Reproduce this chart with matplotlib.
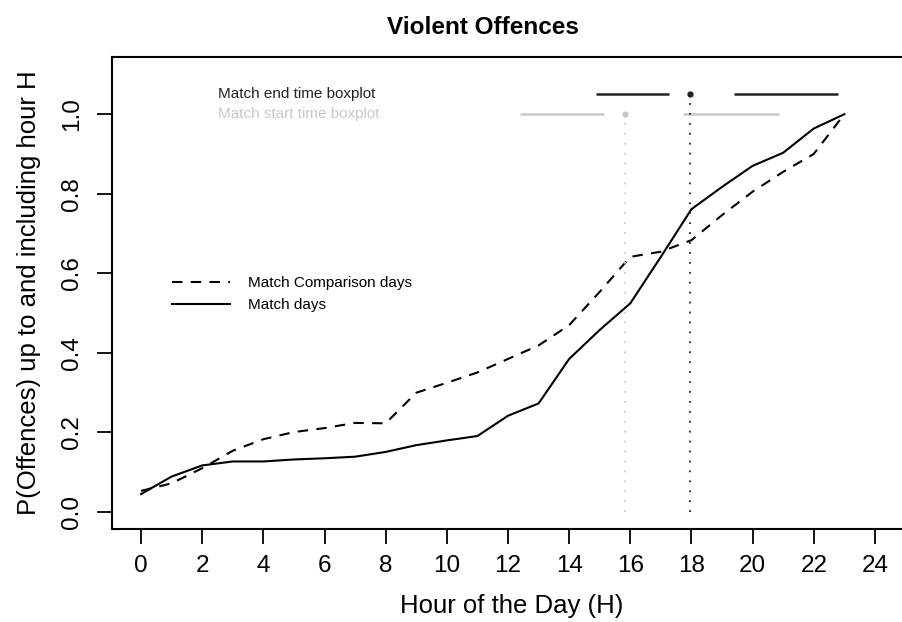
import numpy as np
import matplotlib
matplotlib.use("Agg")
import matplotlib.pyplot as plt

plt.rcParams['font.family'] = ['Liberation Sans', 'DejaVu Sans']

# cumulative share of offences by hour
hours = list(range(24))
match_days = [0.044, 0.088, 0.116, 0.126, 0.126, 0.131, 0.134, 0.138, 0.150, 0.167,
              0.179, 0.190, 0.241, 0.272, 0.384, 0.457, 0.524, 0.641, 0.761, 0.817,
              0.870, 0.903, 0.964, 1.000]
comparison_days = [0.052, 0.071, 0.109, 0.153, 0.182, 0.200, 0.210, 0.223, 0.222, 0.299,
                   0.324, 0.350, 0.384, 0.418, 0.469, 0.553, 0.641, 0.654, 0.683, 0.746,
                   0.805, 0.855, 0.900, 1.000]

# boxplot stats (min, q1, median, q3, max) of match times in hours
end_stats = [14.88, 17.27, 17.94, 19.39, 22.79]
start_stats = [12.39, 15.14, 15.83, 17.72, 20.86]
end_level = 1.05
start_level = 1.0

fig = plt.figure(figsize=(9.03, 6.22), dpi=100)
# axes run past the right edge, like the cropped original
ax = fig.add_axes([112 / 903, 1 - 529 / 622, 810 / 903, 472 / 622])

ax.plot(hours, comparison_days, color='black', lw=1.5, linestyle=(0, (5, 4)),
        label='Match Comparison days')
ax.plot(hours, match_days, color='black', lw=1.5, label='Match days')

# tufte style boxplots along the top
def draw_box(stats, level, col, dotcol):
    lo, q1, med, q3, hi = stats
    ax.plot([lo, q1], [level, level], color=col, lw=1.8, solid_capstyle='butt')
    ax.plot([q3, hi], [level, level], color=col, lw=1.8, solid_capstyle='butt')
    ax.plot([med], [level], marker='o', ms=3.5, color=col, mec=col)
    ax.plot([med, med], [0, level], color=dotcol, lw=1.3, linestyle=(0, (1, 4.5)))

draw_box(start_stats, start_level, '#c8c8c8', '#cccccc')
draw_box(end_stats, end_level, '#222222', '#222222')

ax.text(2.52, end_level, 'Match end time boxplot', fontsize=11, color='#222222',
        va='center', ha='left')
ax.text(2.52, start_level, 'Match start time boxplot', fontsize=11, color='#c8c8c8',
        va='center', ha='left')

leg = ax.legend(loc='upper left', bbox_to_anchor=(60 / 810, 0.536), frameon=False,
                fontsize=11, handlelength=3.8, handletextpad=1.2, labelspacing=0.55,
                borderpad=0, borderaxespad=0)

ax.set_xlim(-0.95, 25.54)
ax.set_ylim(-0.044, 1.144)
ax.set_xticks(np.arange(0, 25, 2))
ax.set_yticks([0.0, 0.2, 0.4, 0.6, 0.8, 1.0])
ax.set_yticklabels(['0.0', '0.2', '0.4', '0.6', '0.8', '1.0'], rotation=90, va='center')
ax.tick_params(axis='both', labelsize=17.5, length=11, width=1.3, pad=8)
ax.tick_params(axis='y', pad=10)
for s in ax.spines.values():
    s.set_linewidth(1.5)

ax.set_xlabel('Hour of the Day (H)', fontsize=18.5, labelpad=12)
ax.xaxis.label.set_x(0.494)
ax.set_ylabel('P(Offences) up to and including hour H', fontsize=18.5, labelpad=14)
fig.text(483 / 903, 1 - 28 / 622, 'Violent Offences', fontsize=17.5, fontweight='bold',
         ha='center', va='center')

fig.savefig('out.png', dpi=100)
